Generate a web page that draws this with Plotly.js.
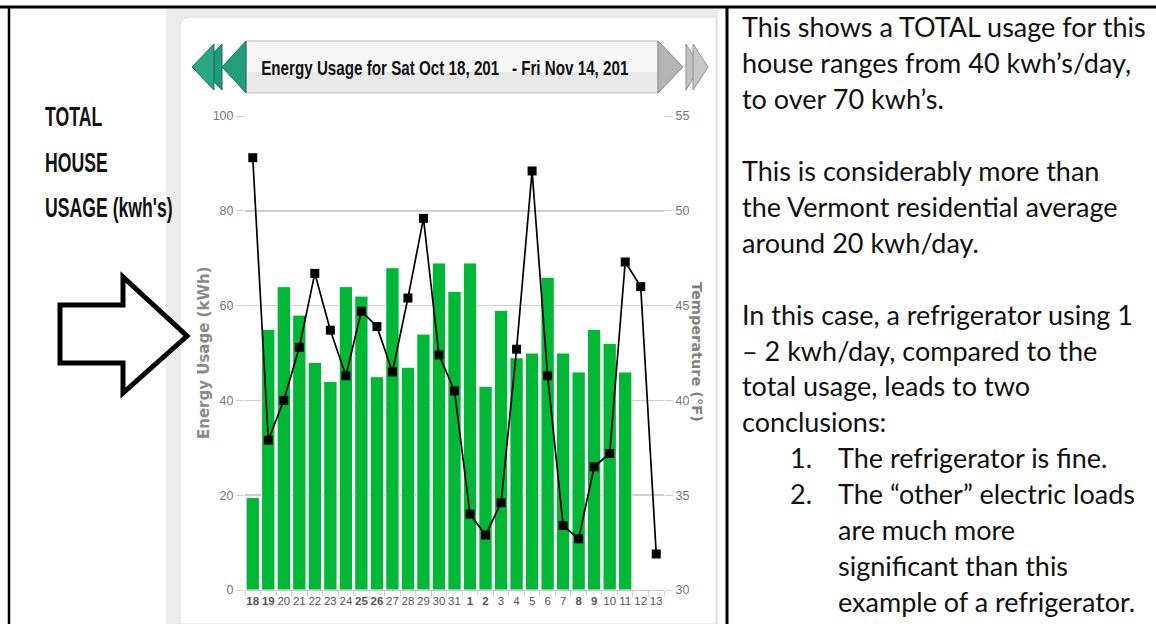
<!DOCTYPE html>
<html>
<head>
<meta charset="utf-8">
<script src="https://cdn.plot.ly/plotly-3.0.1.min.js"></script>
<style>
html,body{margin:0;padding:0;background:#fff;}
#chart{width:1156px;height:624px;}
</style>
</head>
<body>
<div id="chart"></div>
<script>
// ---- data ----
const days = ["18","19","20","21","22","23","24","25","26","27","28","29","30","31",
              "1","2","3","4","5","6","7","8","9","10","11","12","13"];
const weekendDays = ["18","19","25","26","1","2","8","9"];
const energyKWh = [19.5,55,64,58,48,44,64,62,45,68,47,54,69,63,
                   69,43,59,49,50,66,50,46,55,52,46,null,null];
const temperatureF = [52.8,37.9,40.0,42.8,46.7,43.7,41.3,44.7,43.9,41.5,45.4,49.6,42.4,40.5,
                      34.0,32.9,34.6,42.7,52.1,41.3,33.4,32.7,36.5,37.2,47.3,46.0,31.9];
const energyTicks = [0,20,40,60,80,100];
const tempTicks = [30,35,40,45,50,55];
const chartTitle = "Energy Usage for Sat Oct 18, 201\u00a0\u00a0\u00a0- Fri Nov 14, 201";
const leftLabel = ["TOTAL","HOUSE","USAGE (kwh's)"];
const noteLines = [
  "This shows a TOTAL usage for this",
  "house ranges from 40 kwh\u2019s/day,",
  "to over 70 kwh\u2019s.",
  "",
  "This is considerably more than",
  "the Vermont residential average",
  "around 20 kwh/day.",
  "",
  "In this case, a refrigerator using 1",
  "\u2013 2 kwh/day, compared to the",
  "total usage, leads to two",
  "conclusions:"
];
const conclusions = [
  ["1.", "The refrigerator is fine."],
  ["2.", "The \u201cother\u201d electric loads"],
  ["",   "are much more"],
  ["",   "significant than this"],
  ["",   "example of a refrigerator."]
];

// ---- geometry helpers (pixel -> paper) ----
const PL = 245, PR = 664, PT = 116, PB = 590;
const fx = p => (p - PL) / (PR - PL);
const fy = p => (PB - p) / (PB - PT);

const narrow = "'Liberation Sans', Arial, sans-serif";
const bodyFont = "Lato, Carlito, Calibri, sans-serif";

const tickText = days.map(d => weekendDays.includes(d) ? "<b>" + d + "</b>" : d);

const traces = [
  {
    type: "bar", x: days, y: energyKWh, name: "Energy",
    marker: {color: "#00b836", line: {color: "#ffffff", width: 1}},
    hoverinfo: "x+y"
  },
  {
    type: "scatter", mode: "lines+markers", x: days, y: temperatureF, yaxis: "y2", name: "Temp",
    line: {color: "#000", width: 1.7},
    marker: {symbol: "square", size: 9, color: "#000"}
  }
];

const shapes = [];
function rect(x0, y0, x1, y1, fill, line, lw, layer) {
  shapes.push({type: "rect", xref: "paper", yref: "paper",
    x0: fx(x0), x1: fx(x1), y0: fy(y1), y1: fy(y0),
    fillcolor: fill, line: {color: line || "rgba(0,0,0,0)", width: lw || 0}, layer: layer || "below"});
}
function poly(pts, fill, line, lw, layer) {
  const d = "M " + pts.map(p => fx(p[0]) + "," + fy(p[1])).join(" L ") + " Z";
  shapes.push({type: "path", xref: "paper", yref: "paper", path: d,
    fillcolor: fill, line: {color: line || "rgba(0,0,0,0)", width: lw || 0}, layer: layer || "above"});
}
function lineSeg(x0, y0, x1, y1, color, w) {
  shapes.push({type: "line", xref: "paper", yref: "paper",
    x0: fx(x0), y0: fy(y0), x1: fx(x1), y1: fy(y1), line: {color: color, width: w}, layer: "above"});
}

// widget background (grey) and white panel with rounded top-left corner
rect(166, 9, 718, 624, "#ececec");
(function(){
  const r = 10, x0 = 180, y0 = 17, x1 = 716, y1 = 624;
  const d = "M " + fx(x0) + "," + fy(y1) +
    " L " + fx(x0) + "," + fy(y0 + r) +
    " Q " + fx(x0) + "," + fy(y0) + " " + fx(x0 + r) + "," + fy(y0) +
    " L " + fx(x1) + "," + fy(y0) +
    " L " + fx(x1) + "," + fy(y1) + " Z";
  shapes.push({type: "path", xref: "paper", yref: "paper", path: d,
    fillcolor: "#ffffff", line: {color: "#d8d8d8", width: 1}, layer: "below"});
})();

// title banner
rect(246, 41, 658, 93, "#f6f6f6", "#b5b5b5", 1, "below");
rect(247, 72, 657, 92, "#e9e9e9", null, 0, "below");
// left teal arrows
poly([[200, 67], [222, 44], [222, 90]], "#1f9a7a", "#13705a", 1);
poly([[192, 67], [214, 44], [214, 90]], "#2aa685", "#13705a", 1);
poly([[222, 67], [246, 41], [246, 93]], "#229e7d", "#13705a", 1);
// right grey arrows
poly([[658, 41], [658, 93], [683, 67]], "#b4b4b4", "#8a8a8a", 1);
poly([[686, 44], [686, 90], [700, 67]], "#c2c2c2", "#8f8f8f", 1);
poly([[693, 44], [693, 90], [708, 67]], "#c8c8c8", "#8f8f8f", 1);

// big outlined arrow
poly([[60, 305], [123, 305], [123, 277], [187, 336], [123, 393], [123, 363], [60, 363]],
     "#ffffff", "#000000", 5);

// document borders
lineSeg(0, 7, 1156, 7, "#000", 3);
lineSeg(9, 7, 9, 624, "#000", 2.5);
lineSeg(727, 7, 727, 624, "#000", 3);

const annotations = [];
const condensedIdx = [];   // annotations drawn horizontally condensed: [index, scaleX, origin]
function txt(x, y, text, size, color, family, anchor, extra) {
  annotations.push(Object.assign({xref: "paper", yref: "paper", x: fx(x), y: fy(y),
    text: text, showarrow: false, xanchor: anchor || "left", yanchor: "middle",
    font: {size: size, color: color, family: family}}, extra || {}));
  return annotations.length - 1;
}

// banner title
condensedIdx.push([txt(445, 68, "<b>" + chartTitle + "</b>", 20, "#111", narrow, "center"), 0.76, "center center"]);
// axis titles
txt(204, 353, "<b>Energy Usage (kWh)</b>", 15, "#8a8a8a", "'DejaVu Sans', sans-serif", "center", {textangle: -90});
txt(697, 352, "<b>Temperature (\u00b0F)</b>", 14.5, "#857f7a", "'DejaVu Sans', sans-serif", "center", {textangle: 90});

// left label
leftLabel.forEach((t, i) =>
  condensedIdx.push([txt(43, 117 + i * 45, "<b>" + t + "</b>", 28, "#111", narrow, "left"), 0.63, "left center"]));

// right notes
const LH = 35.9;
noteLines.forEach((t, i) => { if (t) txt(740, 27 + i * LH, t, 27, "#111", bodyFont, "left"); });
conclusions.forEach((c, i) => {
  const y = 27 + (noteLines.length + i) * LH;
  if (c[0]) txt(788, y, c[0], 27, "#111", bodyFont, "left");
  txt(836, y, c[1], 27, "#111", bodyFont, "left");
});

const layout = {
  width: 1156, height: 624,
  margin: {l: PL, r: 1156 - PR, t: PT, b: 624 - PB, pad: 0},
  paper_bgcolor: "#ffffff", plot_bgcolor: "rgba(0,0,0,0)",
  showlegend: false, bargap: 0.14,
  xaxis: {
    type: "category", categoryorder: "array", categoryarray: days,
    tickmode: "array", tickvals: days, ticktext: tickText, tickangle: 0,
    tickfont: {family: narrow, size: 11.5, color: "#555"},
    showline: true, linecolor: "#c8c8c8", linewidth: 1,
    ticks: "outside", ticklen: 5, tickcolor: "#d0d0d0", tickson: "boundaries",
    showgrid: false, range: [-0.5, 26.5], fixedrange: true
  },
  yaxis: {
    range: [0, 100], tickmode: "array", tickvals: energyTicks,
    tickfont: {family: narrow, size: 12.5, color: "#777"},
    showgrid: true, gridcolor: "#cfcfcf", gridwidth: 1.5, zeroline: false,
    ticks: "outside", ticklen: 8, tickcolor: "#cfcfcf", showline: false, fixedrange: true
  },
  yaxis2: {
    overlaying: "y", side: "right", range: [30, 55], tickmode: "array", tickvals: tempTicks,
    tickfont: {family: narrow, size: 12.5, color: "#777"},
    showgrid: false, zeroline: false,
    ticks: "outside", ticklen: 8, tickcolor: "#cfcfcf", showline: false, fixedrange: true
  },
  shapes: shapes,
  annotations: annotations
};

function squeeze(el, s, origin) {
  el.style.transformBox = "fill-box";
  el.style.transformOrigin = origin;
  el.style.transform = "scaleX(" + s + ")";
}

Plotly.newPlot("chart", traces, layout, {displayModeBar: false, staticPlot: true}).then(gd => {
  condensedIdx.forEach(([i, s, origin]) => {
    const t = gd.querySelector('.annotation[data-index="' + i + '"] text');
    if (t) squeeze(t, s, origin);
  });
});
</script>
</body>
</html>
